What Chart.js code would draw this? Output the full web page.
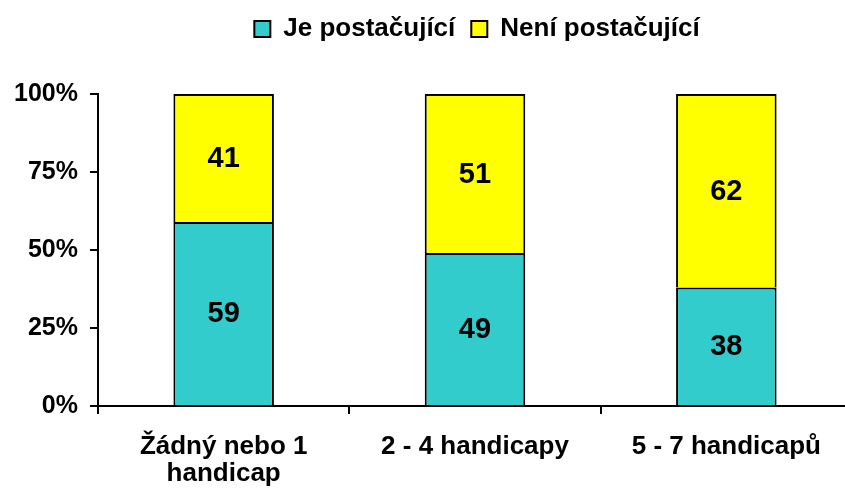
<!DOCTYPE html>
<html>
<head>
<meta charset="utf-8">
<script src="https://cdn.jsdelivr.net/npm/chart.js@4/dist/chart.umd.min.js"></script>
<style>
  html, body { margin: 0; padding: 0; background: #fff; overflow: hidden; }
  #wrap { width: 852px; height: 493px; }
</style>
</head>
<body>
<div id="wrap"><canvas id="chart"></canvas></div>
<script>
const categories = [["Žádný nebo 1", "handicap"], "2 - 4 handicapy", "5 - 7 handicapů"];
const jePostacujici = [59, 49, 38];
const neniPostacujici = [41, 51, 62];
const yTicks = [0, 25, 50, 75, 100];

const FONT = '"Liberation Sans", Arial, sans-serif';

// draws the numbers in the middle of each bar segment
const valueLabels = {
  id: "valueLabels",
  afterDatasetsDraw(chart) {
    const ctx = chart.ctx;
    ctx.save();
    ctx.font = "bold 29px " + FONT;
    ctx.fillStyle = "#000";
    ctx.textAlign = "center";
    ctx.textBaseline = "middle";
    chart.data.datasets.forEach((ds, i) => {
      chart.getDatasetMeta(i).data.forEach((bar, j) => {
        const p = bar.getCenterPoint();
        ctx.fillText(ds.data[j], p.x, p.y + 1);
      });
    });
    ctx.restore();
  }
};

// fixed legend height + move legend a bit to the right like in the original
const legendTweak = {
  id: "legendTweak",
  beforeLayout(chart) {
    const lg = chart.legend;
    if (lg && !lg._patched) {
      const fit = lg.fit;
      lg.fit = function () {
        fit.call(this);
        this.height = 94;
      };
      lg._patched = true;
    }
  },
  afterLayout(chart) {
    const lg = chart.legend;
    if (lg) {
      lg.left += 51;
      lg.right += 51;
    }
  }
};

new Chart(document.getElementById("chart"), {
  type: "bar",
  data: {
    labels: categories,
    datasets: [
      {
        label: "Je postačující",
        data: jePostacujici,
        backgroundColor: "#33CCCC",
        borderColor: "#000",
        borderWidth: 2
      },
      {
        label: "Není postačující",
        data: neniPostacujici,
        backgroundColor: "#FFFF00",
        borderColor: "#000",
        borderWidth: 2
      }
    ]
  },
  options: {
    responsive: true,
    maintainAspectRatio: false,
    animation: false,
    layout: { padding: { left: 0, top: 0, right: 0, bottom: 0 } },
    datasets: { bar: { categoryPercentage: 0.4, barPercentage: 1 } },
    plugins: {
      tooltip: { enabled: false },
      legend: {
        position: "top",
        labels: {
          color: "#000",
          font: { family: FONT, size: 26, weight: "bold" },
          boxWidth: 16,
          boxHeight: 16,
          padding: 16
        }
      }
    },
    scales: {
      x: {
        stacked: true,
        afterFit(scale) { scale.height = 87; },
        border: { color: "#000", width: 2 },
        grid: {
          offset: true,
          drawOnChartArea: false,
          drawTicks: true,
          tickLength: 8,
          color: "#000",
          lineWidth: 2
        },
        ticks: {
          color: "#000",
          font: { family: FONT, size: 26, weight: "bold", lineHeight: 1.05 },
          padding: 19,
          maxRotation: 0,
          autoSkip: false
        }
      },
      y: {
        stacked: true,
        min: 0,
        max: 100,
        afterFit(scale) { scale.width = 98; },
        afterBuildTicks(scale) {
          scale.ticks = yTicks.map(v => ({ value: v }));
        },
        border: { color: "#000", width: 2 },
        grid: {
          drawOnChartArea: false,
          drawTicks: true,
          tickLength: 8,
          color: "#000",
          lineWidth: 2
        },
        ticks: {
          color: "#000",
          font: { family: FONT, size: 25, weight: "bold" },
          padding: 12,
          callback: v => v + "%"
        }
      }
    }
  },
  plugins: [valueLabels, legendTweak]
});
</script>
</body>
</html>
